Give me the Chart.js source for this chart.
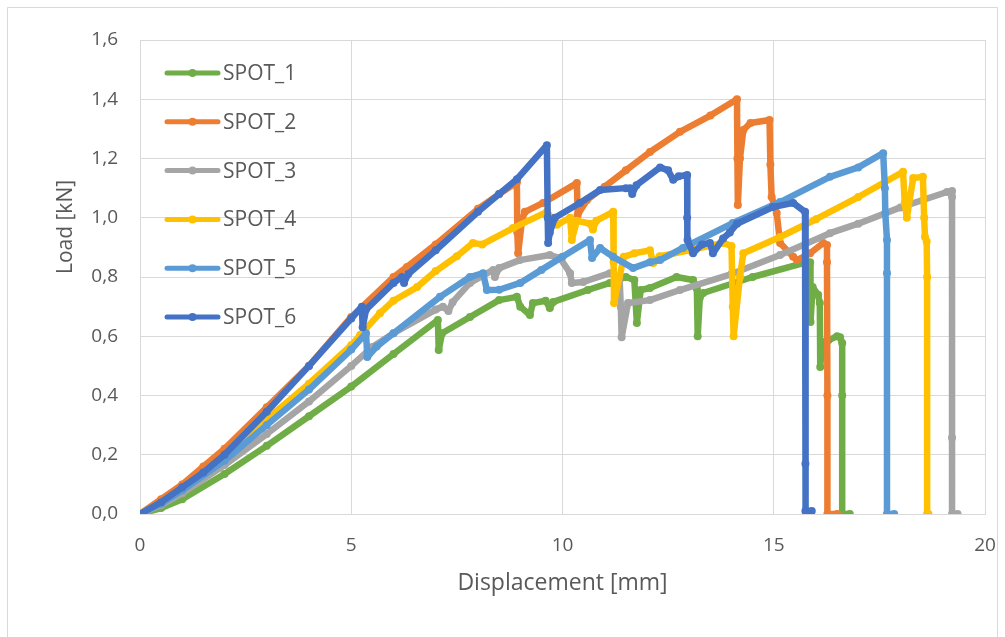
<!DOCTYPE html>
<html>
<head>
<meta charset="utf-8">
<script src="https://cdn.jsdelivr.net/npm/chart.js@4.4.1/dist/chart.umd.min.js"></script>
<style>
  html, body { margin: 0; padding: 0; background: #ffffff; }
  #wrap { width: 1005px; height: 637px; position: relative; }
</style>
</head>
<body>
<div id="wrap"><canvas id="chart" width="1005" height="637"></canvas></div>
<script>
// Load–displacement curves of the six test spots (displacement in mm, load in kN)
const seriesNames = ["SPOT_1", "SPOT_2", "SPOT_3", "SPOT_4", "SPOT_5", "SPOT_6"];
const seriesColors = ["#70AD47", "#ED7D31", "#A5A5A5", "#FFC000", "#5B9BD5", "#4472C4"];

const spot1X = [0,0.5,1,2,3,4,5,6,7.05,7.07,7.15,7.81,8.5,8.92,9.0,9.23,9.3,9.6,9.7,9.78,10.6,11.12,11.5,11.7,11.76,11.85,12.07,12.7,13.09,13.18,13.2,13.25,13.33,14.5,15.79,15.86,15.87,15.92,16.05,16.09,16.1,16.15,16.3,16.5,16.57,16.62,16.62,16.62,16.8];
const spot1Y = [0,0.02,0.05,0.135,0.23,0.33,0.43,0.54,0.655,0.554,0.61,0.665,0.722,0.733,0.70,0.672,0.712,0.72,0.695,0.716,0.756,0.78,0.8,0.79,0.645,0.756,0.763,0.8,0.79,0.76,0.6,0.73,0.746,0.8,0.85,0.85,0.648,0.766,0.74,0.712,0.496,0.58,0.587,0.6,0.597,0.577,0.4,0,0];

const spot2X = [0,0.5,1,1.5,2,3,4,5,6,6.32,7,8,8.5,8.92,8.93,8.95,9.04,9.11,9.54,10.34,10.36,10.58,11,11.5,12.07,12.78,13.5,14.13,14.14,14.15,14.2,14.28,14.45,14.9,14.92,14.95,15.07,15.15,15.46,15.55,15.86,16.17,16.26,16.26,16.27,16.27,16.5];
const spot2Y = [0,0.05,0.1,0.16,0.22,0.36,0.5,0.665,0.8,0.834,0.91,1.03,1.08,1.12,0.95,0.88,0.99,1.02,1.05,1.117,1.01,1.06,1.105,1.16,1.222,1.29,1.345,1.4,1.2,1.043,1.2,1.296,1.32,1.33,1.18,1.07,1.016,0.915,0.868,0.857,0.88,0.915,0.908,0.85,0.4,0,0];

const spot3X = [0,0.5,1,2,3,4,5,5.5,6,7,7.17,7.3,7.4,7.81,8.36,8.4,8.5,8.99,9.7,9.94,10.18,10.22,10.49,11.12,11.35,11.38,11.4,11.55,12.07,12.78,14,15.15,16.33,17,18,19.1,19.22,19.22,19.22,19.22,19.35];
const spot3Y = [0,0.03,0.07,0.165,0.27,0.38,0.5,0.564,0.61,0.69,0.70,0.685,0.715,0.78,0.824,0.8,0.83,0.857,0.874,0.864,0.813,0.78,0.783,0.813,0.8,0.7,0.597,0.712,0.722,0.756,0.81,0.874,0.948,0.98,1.035,1.087,1.09,1.07,0.257,0,0];

const spot4X = [0,0.5,1,2,3,4,5,5.21,5.68,6,6.56,7,7.5,7.88,8.1,8.83,9.63,9.87,10.18,10.22,10.34,10.65,10.72,10.8,11.2,11.21,11.22,11.45,11.7,12.07,12.15,12.3,13,13.8,14.0,14.03,14.05,14.2,14.28,15.15,16,17,18.06,18.1,18.15,18.3,18.53,18.56,18.58,18.62,18.63,18.63,18.66];
const spot4Y = [0,0.04,0.085,0.19,0.32,0.44,0.57,0.604,0.678,0.72,0.766,0.82,0.87,0.915,0.91,0.965,1.02,0.976,1.0,0.925,0.99,0.98,0.96,0.99,1.02,0.85,0.712,0.868,0.88,0.89,0.847,0.87,0.89,0.915,0.905,0.7,0.6,0.8,0.88,0.935,0.995,1.07,1.155,1.05,1.0,1.134,1.138,1.0,0.935,0.92,0.8,0,0];

const spot5X = [0,0.5,1,2,3,4,5,5.35,5.38,5.6,6,7.1,7.81,8.12,8.21,8.5,9,9.5,10,10.65,10.7,10.89,11.2,11.67,12.07,12.31,12.85,14.03,15.15,16.33,17,17.59,17.63,17.64,17.68,17.68,17.68,17.85];
const spot5Y = [0,0.035,0.08,0.18,0.3,0.42,0.555,0.61,0.53,0.565,0.61,0.733,0.8,0.813,0.756,0.757,0.78,0.824,0.868,0.925,0.864,0.898,0.868,0.83,0.85,0.857,0.898,0.982,1.053,1.138,1.17,1.218,1.1,1.016,0.925,0.813,0,0];

const spot6X = [0,0.5,1,1.5,2,3,4,5,5.25,5.27,5.35,6,6.2,6.25,6.35,7,8,8.5,8.92,9.63,9.65,9.66,9.7,9.82,10.41,10.89,11.5,11.6,11.65,11.75,12.31,12.5,12.62,12.75,12.95,12.95,12.96,13.09,13.3,13.49,13.56,13.8,13.96,14.13,14.98,15.46,15.74,15.75,15.75,15.76,15.9];
const spot6Y = [0,0.04,0.09,0.14,0.2,0.345,0.5,0.66,0.70,0.63,0.69,0.78,0.80,0.78,0.81,0.89,1.02,1.08,1.13,1.245,1.0,0.915,0.95,1.0,1.05,1.094,1.1,1.1,1.08,1.11,1.17,1.16,1.128,1.14,1.144,1.0,0.925,0.88,0.91,0.915,0.88,0.93,0.95,0.98,1.036,1.05,1.02,0.17,0.01,0.01,0.01];

// Axis ticks
const xTicks = [0, 5, 10, 15, 20];
const yTicks = [0, 0.2, 0.4, 0.6, 0.8, 1.0, 1.2, 1.4, 1.6];

const xTitle = "Displacement [mm]";
const yTitle = "Load [kN]";

const allX = [spot1X, spot2X, spot3X, spot4X, spot5X, spot6X];
const allY = [spot1Y, spot2Y, spot3Y, spot4Y, spot5Y, spot6Y];

const FONT = "'Open Sans', 'DejaVu Sans', sans-serif";
const TEXT = "#595959";
const GRID = "#D9D9D9";
const LINE_W = 6.5;

const datasets = seriesNames.map((name, i) => ({
  label: name,
  data: allX[i].map((x, k) => ({ x: x, y: allY[i][k] })),
  showLine: true,
  borderColor: seriesColors[i],
  backgroundColor: seriesColors[i],
  borderWidth: LINE_W,
  borderJoinStyle: 'round',
  borderCapStyle: 'round',
  pointRadius: 4,
  pointBorderWidth: 0,
  pointBackgroundColor: seriesColors[i],
  pointHoverRadius: 4,
  tension: 0,
  order: seriesNames.length - 1 - i
}));

// Frame, axis titles and in-plot legend
const decorations = {
  id: 'decorations',
  beforeDraw(chart) {
    const c = chart.ctx;
    c.save();
    c.fillStyle = '#ffffff';
    c.fillRect(0, 0, chart.width, chart.height);
    c.strokeStyle = GRID;
    c.lineWidth = 1;
    c.beginPath();
    c.moveTo(7.5, 640);
    c.lineTo(7.5, 7.5);
    c.lineTo(997.5, 7.5);
    c.lineTo(997.5, 640);
    c.stroke();
    c.restore();
  },
  afterDraw(chart) {
    const c = chart.ctx;
    const a = chart.chartArea;
    c.save();
    c.fillStyle = TEXT;
    c.font = "23px " + FONT;
    c.textAlign = 'center';
    c.textBaseline = 'middle';
    c.fillText(xTitle, (a.left + a.right) / 2, 583);
    c.font = "21px " + FONT;
    c.translate(66, 227);
    c.rotate(-Math.PI / 2);
    c.fillText(yTitle, 0, 0);
    c.restore();

    c.save();
    chart.data.datasets.forEach((ds, i) => {
      const y = 73 + i * 48.8;
      c.strokeStyle = ds.borderColor;
      c.lineWidth = 5;
      c.lineCap = 'round';
      c.beginPath();
      c.moveTo(167, y);
      c.lineTo(218, y);
      c.stroke();
      c.fillStyle = ds.borderColor;
      c.beginPath();
      c.arc(192.5, y, 4, 0, Math.PI * 2);
      c.fill();
      c.fillStyle = TEXT;
      c.font = "21px " + FONT;
      c.textAlign = 'left';
      c.textBaseline = 'middle';
      c.fillText(ds.label, 223, y + 1);
    });
    c.restore();
  }
};

new Chart(document.getElementById('chart'), {
  type: 'scatter',
  data: { datasets: datasets },
  options: {
    responsive: false,
    animation: false,
    events: [],
    layout: { padding: { top: 40, right: 20, left: 0, bottom: 0 } },
    plugins: {
      legend: { display: false },
      tooltip: { enabled: false }
    },
    scales: {
      x: {
        type: 'linear',
        min: xTicks[0],
        max: xTicks[xTicks.length - 1],
        afterFit(s) { s.height = 123; s.paddingLeft = 0; s.paddingRight = 0; },
        afterBuildTicks(s) { s.ticks = xTicks.map(v => ({ value: v })); },
        grid: { color: GRID, lineWidth: 1, drawTicks: false },
        border: { color: GRID, width: 1 },
        ticks: {
          padding: 20,
          color: TEXT,
          font: { family: FONT, size: 19 },
          callback: v => String(v)
        }
      },
      y: {
        type: 'linear',
        min: yTicks[0],
        max: yTicks[yTicks.length - 1],
        afterFit(s) { s.width = 140; s.paddingTop = 0; s.paddingBottom = 0; },
        afterBuildTicks(s) { s.ticks = yTicks.map(v => ({ value: v })); },
        grid: { color: GRID, lineWidth: 1, drawTicks: false },
        border: { color: GRID, width: 1 },
        ticks: {
          padding: 22,
          color: TEXT,
          font: { family: FONT, size: 19 },
          callback: v => Number(v).toFixed(1).replace('.', ',')
        }
      }
    }
  },
  plugins: [decorations]
});
</script>
</body>
</html>
